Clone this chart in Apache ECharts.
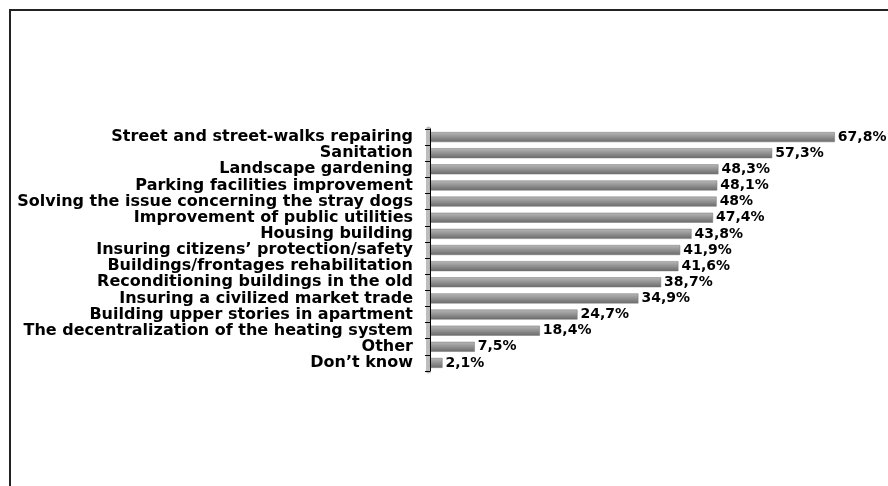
<!DOCTYPE html>
<html>
<head>
<meta charset="utf-8">
<script src="https://cdn.jsdelivr.net/npm/echarts@6/dist/echarts.min.js"></script>
<style>html,body{margin:0;padding:0;background:#fff}#c{width:888px;height:486px}</style>
</head>
<body>
<div id="c"></div>
<script>
const categories = [
  "Street and street-walks repairing",
  "Sanitation",
  "Landscape gardening",
  "Parking facilities improvement",
  "Solving the issue concerning the stray dogs",
  "Improvement of public utilities",
  "Housing building",
  "Insuring citizens\u2019 protection/safety",
  "Buildings/frontages rehabilitation",
  "Reconditioning buildings in the old",
  "Insuring a civilized market trade",
  "Building upper stories in apartment",
  "The decentralization of the heating system",
  "Other",
  "Don\u2019t know"
];
const values = [67.8, 57.3, 48.3, 48.1, 48, 47.4, 43.8, 41.9, 41.6, 38.7, 34.9, 24.7, 18.4, 7.5, 2.1];

const chart = echarts.init(document.getElementById('c'), null, {renderer: 'canvas'});
const catFont = "'DejaVu Sans', sans-serif";
const cats = categories.slice().reverse();
const vals = values.slice().reverse();
chart.setOption({
  animation: false,
  backgroundColor: '#fff',
  graphic: [{
    type: 'polyline',
    shape: {points: [[10, 486], [10, 10], [888, 10]]},
    style: {stroke: '#222', lineWidth: 2, fill: null},
    silent: true
  }],
  grid: {left: 430, right: 40, top: 129, height: 242, containLabel: false},
  xAxis: {type: 'value', min: 0, max: 70, show: false},
  yAxis: [{
    type: 'category', data: cats, position: 'left', offset: 6,
    axisLine: {show: true, lineStyle: {color: '#000', width: 1}},
    axisTick: {show: true, length: 5, lineStyle: {color: '#000'}},
    axisLabel: {margin: 11, interval: 0, hideOverlap: false, color: '#000', fontFamily: catFont, fontWeight: 'bold', fontSize: 16, lineHeight: 16},
    z: 3
  }, {
    type: 'category', data: cats, position: 'left', offset: 2,
    axisLine: {show: true, lineStyle: {color: '#bdbdbd', width: 5}},
    axisTick: {show: false}, axisLabel: {show: false}
  }],
  series: [{
    type: 'bar', data: vals, barWidth: 10, yAxisIndex: 0,
    itemStyle: {
      color: new echarts.graphic.LinearGradient(0, 0, 0, 1, [
        {offset: 0, color: '#b8b8b8'},
        {offset: 0.45, color: '#959595'},
        {offset: 1, color: '#6a6a6a'}
      ]),
      borderColor: '#777', borderWidth: 0.5
    },
    label: {
      show: true, position: 'right', distance: 3,
      color: '#000', fontFamily: catFont, fontWeight: 'bold', fontSize: 14,
      formatter: p => String(p.value).replace('.', ',') + '%'
    }
  }]
});
</script>
</body>
</html>
